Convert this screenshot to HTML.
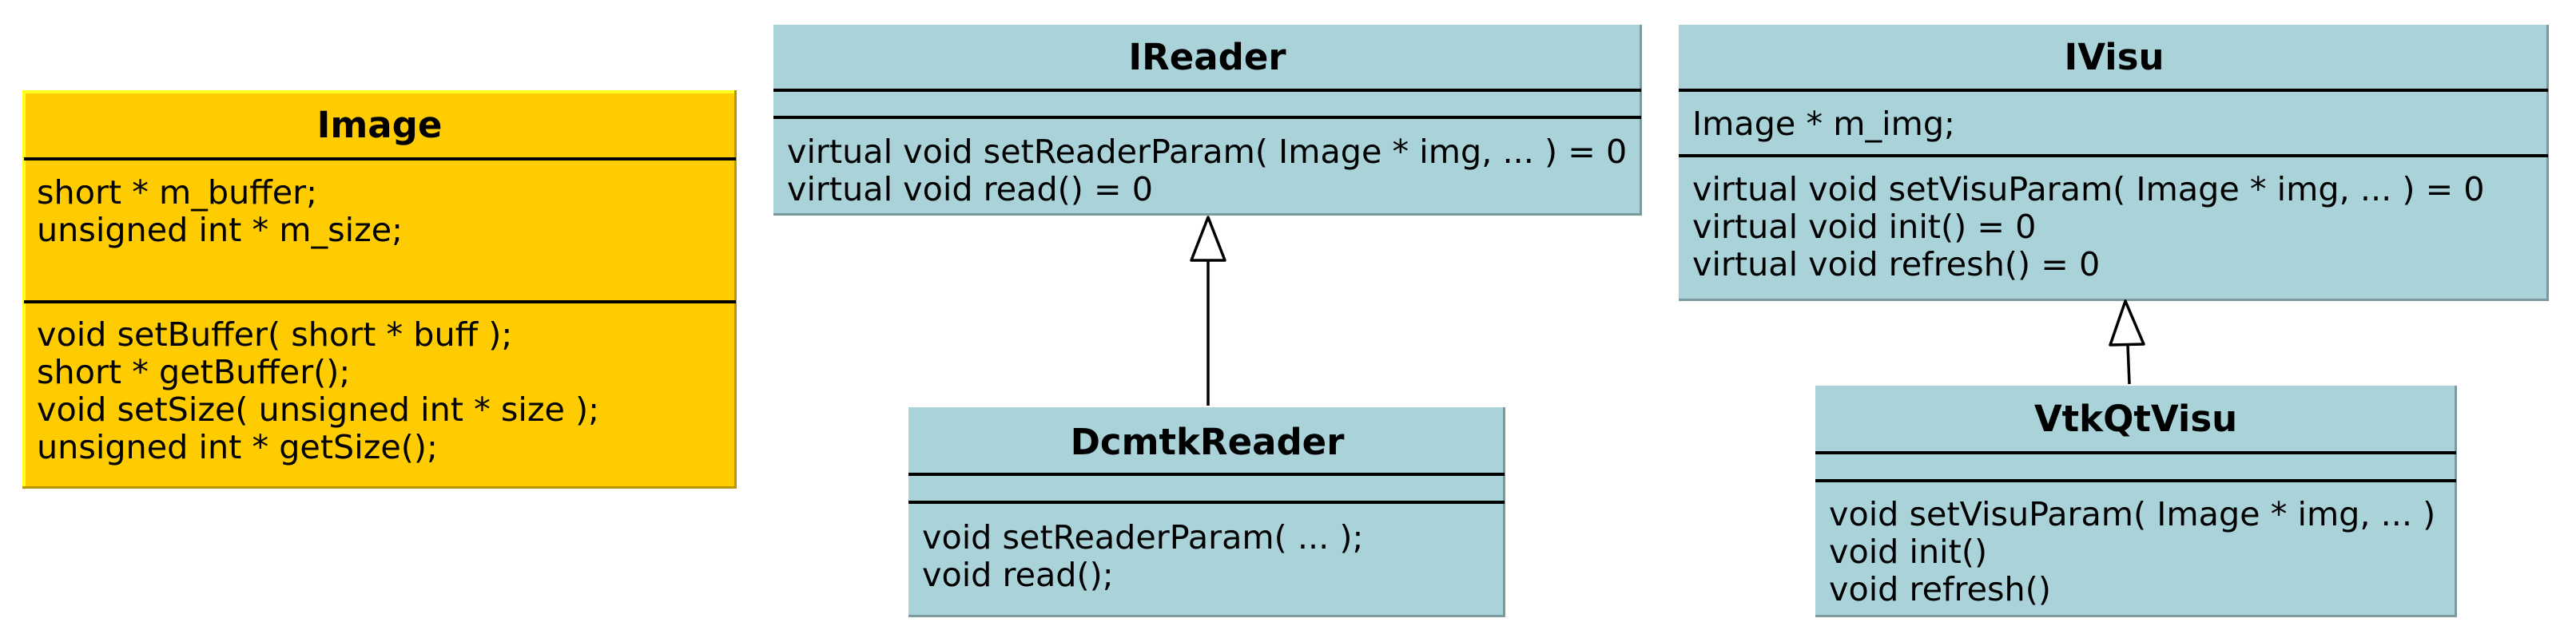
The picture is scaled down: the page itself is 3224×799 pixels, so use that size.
<!DOCTYPE html>
<html><head><meta charset="utf-8"><style>
html,body{margin:0;padding:0;background:#fff;width:3224px;height:799px;overflow:hidden}
svg text{font-family:"DejaVu Sans","Liberation Sans",sans-serif;font-size:41.3px;fill:#000}
svg text.t{font-weight:bold;text-anchor:middle;font-size:45px}
</style></head><body>
<svg width="3224" height="799" viewBox="0 0 3224 799" xmlns="http://www.w3.org/2000/svg">
<!-- Image -->
<rect x="28" y="113" width="894" height="499" fill="#b8960a"/>
<rect x="28" y="113" width="891" height="496" fill="#ffff20"/>
<rect x="32" y="117" width="887" height="492" fill="#fecc00"/>
<line x1="30" y1="199" x2="921" y2="199" stroke="#000" stroke-width="4"/>
<line x1="30" y1="378" x2="921" y2="378" stroke="#000" stroke-width="4"/>
<text class="t" x="475" y="172">Image</text>
<text x="46" y="255">short * m_buffer;</text>
<text x="46" y="302">unsigned int * m_size;</text>
<text x="46" y="433">void setBuffer( short * buff );</text>
<text x="46" y="480">short * getBuffer();</text>
<text x="46" y="527">void setSize( unsigned int * size );</text>
<text x="46" y="574">unsigned int * getSize();</text>

<!-- IReader -->
<rect x="968" y="31" width="1087" height="239" fill="#7a9a9e"/>
<rect x="968" y="31" width="1084" height="236" fill="#a9d3d9"/>
<line x1="968" y1="113" x2="2054" y2="113" stroke="#000" stroke-width="4"/>
<line x1="968" y1="147" x2="2054" y2="147" stroke="#000" stroke-width="4"/>
<text class="t" x="1511" y="87">IReader</text>
<text x="985" y="204">virtual void setReaderParam( Image * img, ... ) = 0</text>
<text x="985" y="251">virtual void read() = 0</text>

<!-- IVisu -->
<rect x="2101" y="31" width="1089" height="346" fill="#7a9a9e"/>
<rect x="2101" y="31" width="1086" height="343" fill="#a9d3d9"/>
<line x1="2101" y1="113" x2="3189" y2="113" stroke="#000" stroke-width="4"/>
<line x1="2101" y1="195" x2="3189" y2="195" stroke="#000" stroke-width="4"/>
<text class="t" x="2646" y="87">IVisu</text>
<text x="2118" y="169">Image * m_img;</text>
<text x="2118" y="251">virtual void setVisuParam( Image * img, ... ) = 0</text>
<text x="2118" y="298">virtual void init() = 0</text>
<text x="2118" y="345">virtual void refresh() = 0</text>

<!-- DcmtkReader -->
<rect x="1137" y="510" width="747" height="263" fill="#7a9a9e"/>
<rect x="1137" y="510" width="744" height="260" fill="#a9d3d9"/>
<line x1="1137" y1="594" x2="1883" y2="594" stroke="#000" stroke-width="4"/>
<line x1="1137" y1="629" x2="1883" y2="629" stroke="#000" stroke-width="4"/>
<text class="t" x="1511" y="569">DcmtkReader</text>
<text x="1154" y="687">void setReaderParam( ... );</text>
<text x="1154" y="734">void read();</text>

<!-- VtkQtVisu -->
<rect x="2272" y="483" width="803" height="290" fill="#7a9a9e"/>
<rect x="2272" y="483" width="800" height="287" fill="#a9d3d9"/>
<line x1="2272" y1="567" x2="3074" y2="567" stroke="#000" stroke-width="4"/>
<line x1="2272" y1="602" x2="3074" y2="602" stroke="#000" stroke-width="4"/>
<text class="t" x="2673" y="540">VtkQtVisu</text>
<text x="2289" y="658">void setVisuParam( Image * img, ... )</text>
<text x="2289" y="705">void init()</text>
<text x="2289" y="752">void refresh()</text>

<!-- arrows -->
<line x1="1512" y1="326" x2="1512" y2="508" stroke="#000" stroke-width="3.5"/>
<polygon points="1512,272 1491,326 1533,326" fill="#fff" stroke="#000" stroke-width="3.5" stroke-linejoin="round"/>
<line x1="2663" y1="432" x2="2665" y2="481" stroke="#000" stroke-width="3.5"/>
<polygon points="2660,377 2641,432 2683,431" fill="#fff" stroke="#000" stroke-width="3.5" stroke-linejoin="round"/>
</svg>
</body></html>
